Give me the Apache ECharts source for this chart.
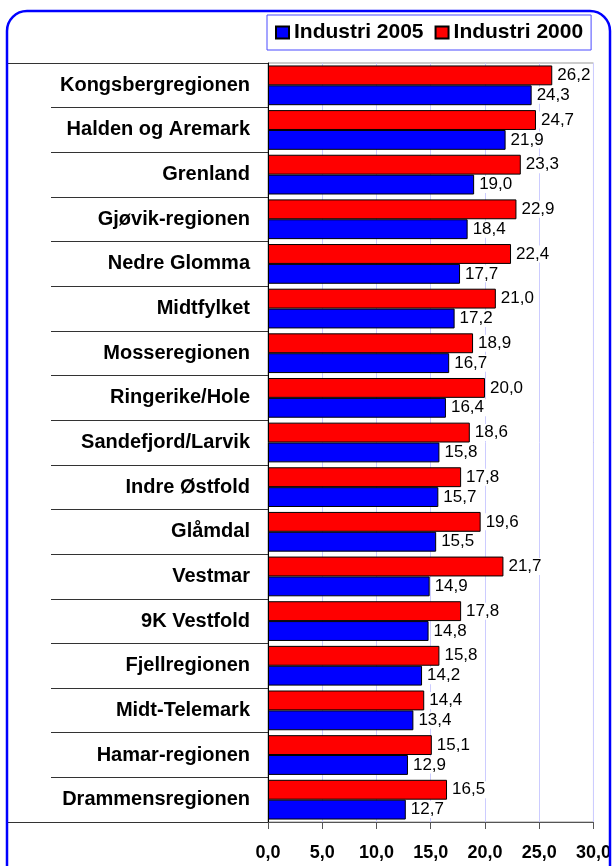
<!DOCTYPE html>
<html>
<head>
<meta charset="utf-8">
<script src="https://cdn.jsdelivr.net/npm/echarts@6/dist/echarts.min.js"></script>
<style>
  html, body { margin: 0; padding: 0; background: #fff; }
  #chart { width: 614px; height: 866px; }
</style>
</head>
<body>
<div id="chart"></div>
<script>
// regions, top to bottom
const regions = [
  'Kongsbergregionen', 'Halden og Aremark', 'Grenland', 'Gjøvik-regionen',
  'Nedre Glomma', 'Midtfylket', 'Mosseregionen', 'Ringerike/Hole',
  'Sandefjord/Larvik', 'Indre Østfold', 'Glåmdal', 'Vestmar',
  '9K Vestfold', 'Fjellregionen', 'Midt-Telemark', 'Hamar-regionen',
  'Drammensregionen'
]
const industri2000 = [26.2, 24.7, 23.3, 22.9, 22.4, 21.0, 18.9, 20.0, 18.6, 17.8, 19.6, 21.7, 17.8, 15.8, 14.4, 15.1, 16.5]
const industri2005 = [24.3, 21.9, 19.0, 18.4, 17.7, 17.2, 16.7, 16.4, 15.8, 15.7, 15.5, 14.9, 14.8, 14.2, 13.4, 12.9, 12.7]
const xTicks = [0, 5, 10, 15, 20, 25, 30]

const comma = v => Number(v).toFixed(1).replace('.', ',')
const font = 'Liberation Sans, Arial, sans-serif'

const valueLabel = {
  show: true,
  position: 'right',
  distance: 3,
  fontFamily: font,
  fontSize: 17,
  color: '#000',
  backgroundColor: '#fff',
  padding: [0, 2],
  formatter: p => comma(p.value)
}

const chart = echarts.init(document.getElementById('chart'))
chart.setOption({
  animation: false,
  backgroundColor: '#fff',
  legend: {
    data: ['Industri 2005', 'Industri 2000'],
    left: 267,
    top: 15,
    width: 325,
    padding: [7, 8, 7, 8],
    itemGap: 11,
    itemWidth: 13,
    itemHeight: 12,
    icon: 'rect',
    backgroundColor: '#fff',
    borderColor: '#4a4aff',
    borderWidth: 1,
    borderRadius: 0,
    textStyle: { fontFamily: font, fontSize: 21, fontWeight: 'bold', color: '#000' }
  },
  grid: {
    left: 268,
    right: 19,
    top: 63,
    bottom: 44,
    show: true,
    borderColor: '#999',
    borderWidth: 1,
    containLabel: false
  },
  xAxis: {
    type: 'value',
    min: xTicks[0],
    max: xTicks[xTicks.length - 1],
    interval: 5,
    axisLine: { show: true, lineStyle: { color: '#555', width: 1 } },
    axisTick: { show: true, inside: false, length: 7, lineStyle: { color: '#555' } },
    splitLine: { show: true, lineStyle: { color: '#ccccff', width: 1 } },
    axisLabel: {
      margin: 22,
      fontFamily: font,
      fontSize: 18,
      fontWeight: 'bold',
      color: '#000',
      formatter: v => comma(v)
    }
  },
  yAxis: {
    type: 'category',
    data: regions,
    inverse: true,
    axisLine: { show: true, lineStyle: { color: '#000', width: 1 } },
    axisTick: { show: true, length: 217, lineStyle: { color: '#333', width: 1 } },
    axisLabel: {
      margin: 18,
      fontFamily: font,
      fontSize: 20,
      fontWeight: 'bold',
      color: '#000'
    }
  },
  series: [
    {
      name: 'Industri 2000',
      type: 'bar',
      data: industri2000,
      barCategoryGap: '11%',
      barGap: '0%',
      itemStyle: { color: '#ff0000', borderColor: '#000', borderWidth: 1 },
      label: valueLabel
    },
    {
      name: 'Industri 2005',
      type: 'bar',
      data: industri2005,
      barCategoryGap: '11%',
      barGap: '0%',
      itemStyle: { color: '#0000ff', borderColor: '#000', borderWidth: 1 },
      label: valueLabel
    }
  ],
  graphic: [
    {
      type: 'rect',
      shape: { x: 7, y: 11, width: 603, height: 880, r: 20 },
      style: { fill: null, stroke: '#0000ff', lineWidth: 2.5 },
      z: 100
    },
    {
      type: 'line',
      shape: { x1: 7, y1: 63.5, x2: 268, y2: 63.5 },
      style: { stroke: '#333', lineWidth: 1 }
    },
    {
      type: 'line',
      shape: { x1: 7, y1: 822.5, x2: 268, y2: 822.5 },
      style: { stroke: '#333', lineWidth: 1 }
    }
  ]
})
</script>
</body>
</html>
